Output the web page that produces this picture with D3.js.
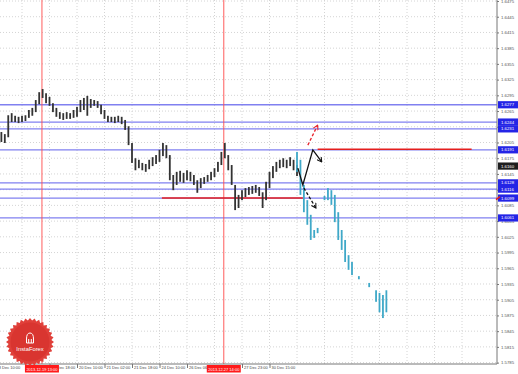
<!DOCTYPE html>
<html>
<head>
<meta charset="utf-8">
<script src="https://cdn.jsdelivr.net/npm/d3@7"></script>
<style>
  body { margin: 0; background: #fff; }
  svg { display: block; font-family: "Liberation Sans", Arial, sans-serif; }
</style>
</head>
<body>
<div id="chart"></div>
<script>
const width = 518;
const height = 374;
const axisX = 497;
const axisY = 364;

// price axis tick labels
const priceTicks = ["1.6475","1.6445","1.6415","1.6385","1.6355","1.6325","1.6295","1.6265",
  "1.6235","1.6205","1.6175","1.6145","1.6115","1.6085","1.6055","1.6025","1.5995","1.5965",
  "1.5935","1.5905","1.5875","1.5845","1.5815","1.5785"];

// time axis: labels every 16 hourly bars (two are hidden behind the red marker tags)
const timeBars = [0, 32, 48, 64, 80, 96, 112, 144, 160];
const timeLabels = ["18 Dec 10:00","19 Dec 18:00","20 Dec 10:00","21 Dec 02:00",
  "21 Dec 18:00","24 Dec 10:00","26 Dec 06:00","27 Dec 23:00","30 Dec 15:00"];

// vertical marker lines
const markerBars = [27.6, 133.4];
const markerLabels = ["2013.12.19 13:00", "2013.12.27 14:00"];

// horizontal support / resistance levels
const levelPrices = [1.6277, 1.6244, 1.6231, 1.6191, 1.6128, 1.6116, 1.6099, 1.6061];
const lastPrice = 1.6160;

// red level segments
const redFrom = [97.4, 188];
const redTo = [179.4, 277.6];
const redPrice = [1.6099, 1.6192];

// history bars (every second hourly bar, starting at bar 4)
const histHigh = [1.6225,1.6221,1.6257,1.6261,1.6256,1.6254,1.6256,1.6257,1.6267,1.6271,
  1.6286,1.6301,1.6307,1.6299,1.6292,1.6280,1.6271,1.6263,1.6261,1.6263,
  1.6261,1.6267,1.6273,1.6286,1.6290,1.6294,1.6288,1.6286,1.6284,1.6277,
  1.6267,1.6256,1.6254,1.6254,1.6256,1.6254,1.6248,1.6236,1.6204,1.6175,
  1.6172,1.6166,1.6164,1.6172,1.6177,1.6181,1.6191,1.6204,1.6200,1.6181,
  1.6143,1.6149,1.6151,1.6147,1.6152,1.6149,1.6143,1.6133,1.6137,1.6139,
  1.6143,1.6149,1.6156,1.6168,1.6187,1.6204,1.6181,1.6162,1.6124,1.6105,
  1.6114,1.6118,1.6120,1.6122,1.6124,1.6120,1.6110,1.6130,1.6149,1.6160,
  1.6168,1.6172,1.6175,1.6172,1.6177,1.6172,1.6162];
const histLow = [1.6206,1.6204,1.6215,1.6244,1.6244,1.6242,1.6244,1.6246,1.6252,1.6256,
  1.6263,1.6278,1.6290,1.6280,1.6275,1.6263,1.6254,1.6250,1.6248,1.6250,
  1.6250,1.6252,1.6254,1.6263,1.6267,1.6256,1.6271,1.6275,1.6271,1.6259,
  1.6250,1.6244,1.6244,1.6242,1.6244,1.6240,1.6229,1.6200,1.6166,1.6152,
  1.6156,1.6152,1.6149,1.6154,1.6160,1.6164,1.6168,1.6179,1.6175,1.6133,
  1.6114,1.6124,1.6130,1.6128,1.6133,1.6131,1.6124,1.6109,1.6118,1.6126,
  1.6130,1.6133,1.6139,1.6149,1.6162,1.6175,1.6152,1.6124,1.6076,1.6080,
  1.6095,1.6101,1.6105,1.6107,1.6109,1.6103,1.6080,1.6095,1.6118,1.6137,
  1.6149,1.6156,1.6158,1.6156,1.6160,1.6152,1.6141];

// actual movement after the forecast (cyan), every second bar from bar 176
const nextHigh = [1.6187,1.6172,1.6124,1.6095,1.6067,1.6038,1.6042,null,1.6103,1.6118,
  1.6114,1.6105,1.6072,1.6038,1.6019,1.5990,1.5977,null,1.5950,null,
  null,1.5937,null,1.5923,1.5918,1.5914,1.5923];
const nextLow = [1.6149,1.6105,1.6072,1.6048,1.6019,1.6023,1.6032,null,1.6095,1.6095,
  1.6086,1.6053,1.6019,1.6000,1.5977,1.5962,1.5952,null,1.5944,null,
  null,1.5929,null,1.5901,1.5881,1.5870,1.5881];

// forecast arrows [bar, price]
const mainPath = [[176.5, 1.6156], [179.4, 1.6124], [185.2, 1.6191], [190.4, 1.6168]];
const downPath = [[180, 1.6118], [187, 1.6080]];
const upPath = [[182.3, 1.6200], [188, 1.6238]];

const svg = d3.select("#chart").append("svg")
  .attr("width", width)
  .attr("height", height);

const defs = svg.append("defs");
function arrowMarker(id, color) {
  defs.append("marker")
    .attr("id", id)
    .attr("viewBox", "0 0 8 8")
    .attr("refX", 7).attr("refY", 4)
    .attr("markerWidth", 6).attr("markerHeight", 6)
    .attr("markerUnits", "userSpaceOnUse")
    .attr("orient", "auto")
    .append("path")
      .attr("d", "M1,0.5 L7,4 L1,7.5")
      .attr("fill", "none")
      .attr("stroke", color)
      .attr("stroke-width", 1.4);
}
arrowMarker("arrBlack", "#111");
arrowMarker("arrRed", "#e8202a");

const x = d3.scaleLinear().domain([0, 288]).range([-5.5, 489.5]);
const y = d3.scaleLinear().domain([1.5785, 1.6475]).range([362.6, 1]);

// grid
const grid = svg.append("g").attr("class", "grid");
grid.selectAll("line.h")
  .data(priceTicks)
  .join("line")
    .attr("x1", 0).attr("x2", axisX)
    .attr("y1", d => y(+d)).attr("y2", d => y(+d))
    .attr("stroke", "#d4d4d4")
    .attr("stroke-dasharray", "1,2");
grid.selectAll("line.v")
  .data(d3.range(16, 288, 16))
  .join("line")
    .attr("x1", d => x(d)).attr("x2", d => x(d))
    .attr("y1", 0).attr("y2", axisY)
    .attr("stroke", "#d4d4d4")
    .attr("stroke-dasharray", "1,2");

// blue levels
svg.append("g").selectAll("line")
  .data(levelPrices)
  .join("line")
    .attr("x1", 0).attr("x2", axisX)
    .attr("y1", d => y(d)).attr("y2", d => y(d))
    .attr("stroke", "#8080f0")
    .attr("stroke-width", 1.3);

// vertical red markers
svg.append("g").selectAll("line")
  .data(markerBars)
  .join("line")
    .attr("x1", d => x(d)).attr("x2", d => x(d))
    .attr("y1", 0).attr("y2", axisY)
    .attr("stroke", "#ff4a4a")
    .attr("stroke-width", 0.9);

// red level segments
svg.append("g").selectAll("line")
  .data(redPrice)
  .join("line")
    .attr("x1", (d, i) => x(redFrom[i])).attr("x2", (d, i) => x(redTo[i]))
    .attr("y1", d => y(d)).attr("y2", d => y(d))
    .attr("stroke", "#e41e1e")
    .attr("stroke-width", 1.6);

// history bars
svg.append("g").selectAll("rect")
  .data(histHigh)
  .join("rect")
    .attr("x", (d, i) => x(4 + 2 * i) - 0.9)
    .attr("width", 1.8)
    .attr("y", d => y(d))
    .attr("height", (d, i) => Math.max(1, y(histLow[i]) - y(d)))
    .attr("fill", "#333");

// cyan bars
svg.append("g").selectAll("rect")
  .data(nextHigh.map((h, i) => ({ h, l: nextLow[i], bar: 176 + 2 * i })).filter(d => d.h !== null))
  .join("rect")
    .attr("x", d => x(d.bar) - 0.9)
    .attr("width", 1.8)
    .attr("y", d => y(d.h))
    .attr("height", d => Math.max(1.5, y(d.l) - y(d.h)))
    .attr("fill", "#3fa8c8");

// forecast arrows
const line = d3.line().x(d => x(d[0])).y(d => y(d[1]));
svg.append("path")
  .attr("d", line(mainPath))
  .attr("fill", "none")
  .attr("stroke", "#111")
  .attr("stroke-width", 1.3)
  .attr("marker-end", "url(#arrBlack)");
svg.append("path")
  .attr("d", line(downPath))
  .attr("fill", "none")
  .attr("stroke", "#111")
  .attr("stroke-width", 1.3)
  .attr("stroke-dasharray", "3,2")
  .attr("marker-end", "url(#arrBlack)");
svg.append("path")
  .attr("d", line(upPath))
  .attr("fill", "none")
  .attr("stroke", "#e8202a")
  .attr("stroke-width", 1.3)
  .attr("stroke-dasharray", "3,2")
  .attr("marker-end", "url(#arrRed)");

// price axis
const yAxis = svg.append("g")
  .attr("transform", `translate(${axisX},0)`)
  .call(d3.axisRight(y).tickValues(priceTicks.map(Number)).tickFormat(d3.format(".4f")).tickSize(2));
yAxis.select(".domain").attr("d", `M0,0V${axisY}`).attr("stroke", "#777");
yAxis.selectAll(".tick line").attr("stroke", "#777");
yAxis.selectAll("text")
  .attr("x", 4)
  .attr("fill", "#555")
  .style("font-size", "4.3px");

// time axis
const xAxis = svg.append("g")
  .attr("transform", `translate(0,${axisY})`)
  .call(d3.axisBottom(x).tickValues(timeBars).tickFormat((d, i) => timeLabels[i]).tickSize(4));
xAxis.select(".domain").attr("d", `M0,0H${axisX}`).attr("stroke", "#777");
xAxis.selectAll(".tick line").attr("stroke", "#777");
xAxis.selectAll("text")
  .attr("text-anchor", "start")
  .attr("x", 1.5)
  .attr("y", 2.5)
  .attr("fill", "#444")
  .style("font-size", "4px");

// level labels on price axis
const lvl = svg.append("g").selectAll("g")
  .data(levelPrices)
  .join("g")
    .attr("transform", d => `translate(${axisX + 1},${y(d)})`);
lvl.append("rect")
  .attr("x", 0).attr("y", -3.6)
  .attr("width", 21).attr("height", 7.2)
  .attr("fill", "#2424e6");
lvl.append("text")
  .attr("x", 3).attr("dy", "0.35em")
  .attr("fill", "#fff")
  .style("font-size", "4.3px")
  .text(d => d3.format(".4f")(d));

const cur = svg.append("g").attr("transform", `translate(${axisX + 1},${y(lastPrice)})`);
cur.append("rect")
  .attr("x", 0).attr("y", -3.6)
  .attr("width", 21).attr("height", 7.2)
  .attr("fill", "#1e1e1e");
cur.append("text")
  .attr("x", 3).attr("dy", "0.35em")
  .attr("fill", "#fff")
  .style("font-size", "4.3px")
  .text(d3.format(".4f")(lastPrice));

// small red tag at the lower red level
svg.append("path")
  .attr("d", `M${axisX - 1},${y(redPrice[0]) + 1.5}L${axisX + 3},${y(redPrice[0]) - 1.5}`)
  .attr("stroke", "#e41e1e")
  .attr("stroke-width", 1.5);

// marker labels on time axis
const ml = svg.append("g").selectAll("g")
  .data(markerBars)
  .join("g")
    .attr("transform", d => `translate(${x(d)},${axisY})`);
ml.append("rect")
  .attr("x", -17).attr("y", 1)
  .attr("width", 34).attr("height", 7.5)
  .attr("fill", "#ff1a1a");
ml.append("text")
  .attr("y", 6.5)
  .attr("text-anchor", "middle")
  .attr("fill", "#fff")
  .style("font-size", "4px")
  .text((d, i) => markerLabels[i]);

// InstaForex seal
const seal = svg.append("g").attr("transform", "translate(30,342)");
const spikes = d3.range(64).map(k => {
  const a = k / 64 * 2 * Math.PI;
  const r = k % 2 ? 21.5 : 24;
  return [Math.sin(a) * r, -Math.cos(a) * r];
});
seal.append("path")
  .attr("d", "M" + spikes.join("L") + "Z")
  .attr("fill", "#e0403a");
seal.append("circle")
  .attr("r", 19.5)
  .attr("fill", "#d93530");
seal.append("path")
  .attr("d", "M-3.5,-3 Q-3.5,-9 0,-9 Q3.5,-9 3.5,-3 L3.5,1 L-3.5,1 Z M-1.3,-3 L-1.3,1 M1.3,-3 L1.3,1")
  .attr("fill", "none")
  .attr("stroke", "#fff")
  .attr("stroke-width", 1);
seal.append("text")
  .attr("y", 9)
  .attr("text-anchor", "middle")
  .attr("fill", "#fff")
  .style("font-size", "5.8px")
  .text("InstaForex");
</script>
</body>
</html>
